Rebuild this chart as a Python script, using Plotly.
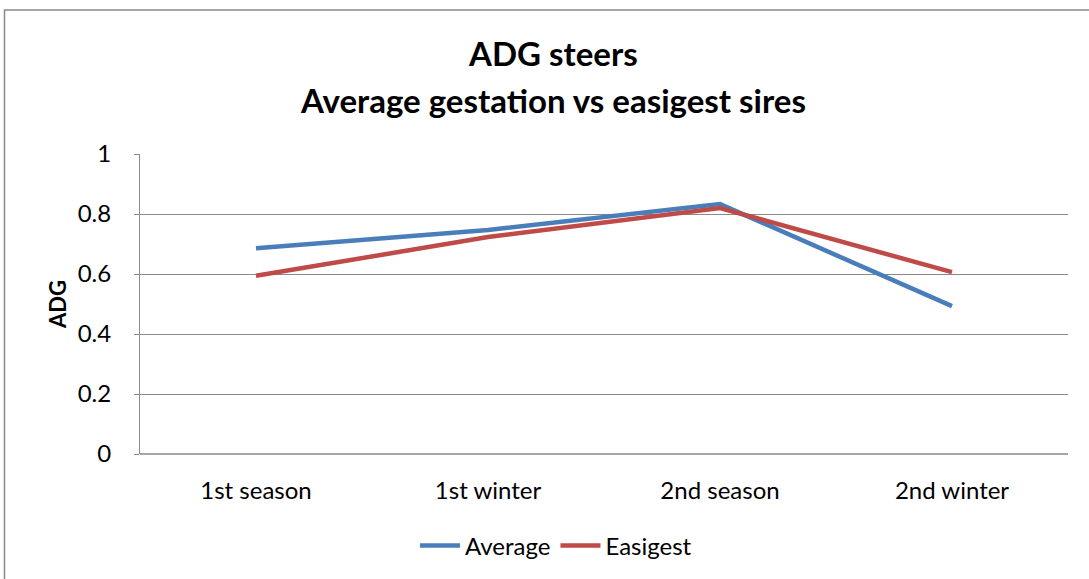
import plotly.graph_objects as go

categories = ["1st season", "1st winter", "2nd season", "2nd winter"]
average = [0.686, 0.747, 0.833, 0.493]
easigest = [0.594, 0.723, 0.820, 0.606]
y_ticks = [0, 0.2, 0.4, 0.6, 0.8, 1]
y_tick_labels = ["0", "0.2", "0.4", "0.6", "0.8", "1"]

FONT = "Lato"
W, H = 1089, 579
L, R, T, B = 140, 21, 154, 124
pw, ph = W - L - R, H - T - B

fig = go.Figure()
fig.add_trace(go.Scatter(x=categories, y=average, name="Average", mode="lines",
                         line=dict(color="#4A7EBB", width=4.5)))
fig.add_trace(go.Scatter(x=categories, y=easigest, name="Easigest", mode="lines",
                         line=dict(color="#BE4B48", width=4.5)))

def px_x(p):
    return (p - L) / pw

def px_y(p):
    return (H - B - p) / ph

fig.update_layout(
    width=W, height=H,
    margin=dict(l=L, r=R, t=T, b=B),
    paper_bgcolor="white", plot_bgcolor="white",
    font=dict(family=FONT, color="black"),
    showlegend=True,
    legend=dict(orientation="h", x=px_x(556), xanchor="center", y=px_y(546), yanchor="middle",
                font=dict(size=24, family=FONT), itemwidth=40, tracegroupgap=0,
                bgcolor="rgba(0,0,0,0)"),
    xaxis=dict(type="category", range=[-0.5, 3.5], showgrid=False, showline=False,
               ticks="", ticklabelstandoff=20,
               tickfont=dict(size=24, family=FONT), zeroline=False, fixedrange=True),
    yaxis=dict(range=[0, 1], tickvals=y_ticks, ticktext=y_tick_labels,
               showgrid=True, gridcolor="#898989", gridwidth=1,
               showline=True, linecolor="#898989", linewidth=1,
               ticks="outside", ticklen=5, tickcolor="#898989", ticklabelstandoff=18,
               tickfont=dict(size=24, family=FONT), zeroline=False, fixedrange=True,
               title=dict(text="<b>ADG</b>", font=dict(size=22, family=FONT), standoff=4)),
    shapes=[
        dict(type="rect", xref="paper", yref="paper",
             x0=px_x(4.5), x1=px_x(1095), y0=px_y(600), y1=px_y(9.5),
             line=dict(color="#898989", width=1.5), fillcolor="rgba(0,0,0,0)", layer="below"),
        dict(type="line", xref="paper", yref="paper", x0=0, x1=1, y0=0, y1=0,
             line=dict(color="#898989", width=1.5)),
    ],
    annotations=[
        dict(text="<b>ADG steers</b>", xref="paper", yref="paper",
             x=px_x(553), y=px_y(53), xanchor="center", yanchor="middle",
             showarrow=False, font=dict(size=33, family=FONT)),
        dict(text="<b>Average gestation vs easigest sires</b>", xref="paper", yref="paper",
             x=px_x(553), y=px_y(100), xanchor="center", yanchor="middle",
             showarrow=False, font=dict(size=33, family=FONT)),
    ],
)

fig.write_html("out.html", config={"displayModeBar": False},
               post_script="document.body.style.margin='0px';")
